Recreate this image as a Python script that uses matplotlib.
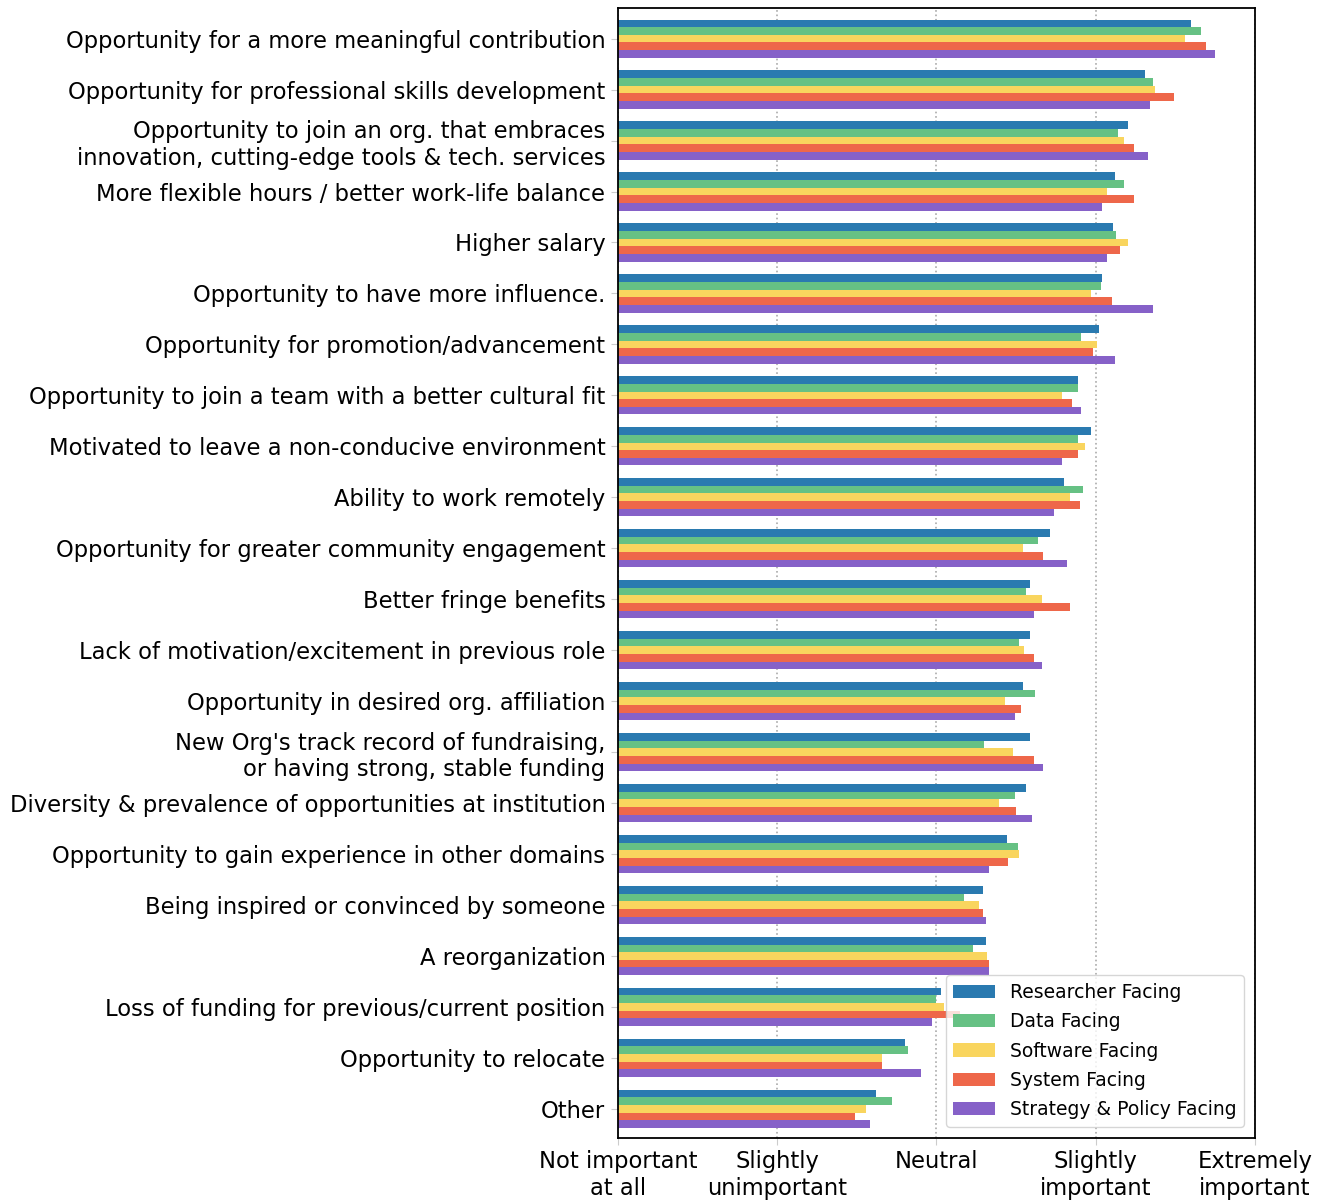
import numpy as np
import matplotlib
matplotlib.use('Agg')
import matplotlib.pyplot as plt

# Reasons (top to bottom)
reasons = [
    'Opportunity for a more meaningful contribution',
    'Opportunity for professional skills development',
    'Opportunity to join an org. that embraces\ninnovation, cutting-edge tools & tech. services',
    'More flexible hours / better work-life balance',
    'Higher salary',
    'Opportunity to have more influence.',
    'Opportunity for promotion/advancement',
    'Opportunity to join a team with a better cultural fit',
    'Motivated to leave a non-conducive environment',
    'Ability to work remotely',
    'Opportunity for greater community engagement',
    'Better fringe benefits',
    'Lack of motivation/excitement in previous role',
    'Opportunity in desired org. affiliation',
    "New Org's track record of fundraising,\nor having strong, stable funding",
    'Diversity & prevalence of opportunities at institution',
    'Opportunity to gain experience in other domains',
    'Being inspired or convinced by someone',
    'A reorganization',
    'Loss of funding for previous/current position',
    'Opportunity to relocate',
    'Other',
]

groups = ['Researcher Facing', 'Data Facing', 'Software Facing',
          'System Facing', 'Strategy & Policy Facing']
colors = ['#2a7ab0', '#66c184', '#f9d55e', '#ee674a', '#8661c8']

researcher = [4.60, 4.31, 4.20, 4.12, 4.11, 4.04, 4.02, 3.89, 3.97, 3.80, 3.71,
              3.59, 3.59, 3.54, 3.59, 3.56, 3.44, 3.29, 3.31, 3.03, 2.80, 2.62]
data_f = [4.66, 4.36, 4.14, 4.18, 4.13, 4.03, 3.91, 3.89, 3.89, 3.92, 3.64,
          3.56, 3.52, 3.62, 3.30, 3.49, 3.51, 3.17, 3.23, 3.00, 2.82, 2.72]
software = [4.56, 4.37, 4.18, 4.07, 4.20, 3.97, 4.01, 3.79, 3.93, 3.84, 3.54,
            3.66, 3.55, 3.43, 3.48, 3.39, 3.52, 3.27, 3.32, 3.05, 2.66, 2.56]
system = [4.69, 4.49, 4.24, 4.24, 4.15, 4.10, 3.98, 3.85, 3.89, 3.90, 3.67,
          3.84, 3.61, 3.53, 3.61, 3.50, 3.45, 3.29, 3.33, 3.15, 2.66, 2.49]
strategy = [4.75, 4.34, 4.33, 4.04, 4.07, 4.36, 4.12, 3.91, 3.79, 3.74, 3.82,
            3.61, 3.66, 3.49, 3.67, 3.60, 3.33, 3.31, 3.33, 2.97, 2.90, 2.58]

tick_labels = ['Not important\nat all', 'Slightly\nunimportant', 'Neutral',
               'Slightly\nimportant', 'Extremely\nimportant']

series = [researcher, data_f, software, system, strategy]

fig, ax = plt.subplots(figsize=(13.26, 12.01), dpi=100)
fig.subplots_adjust(left=0.466, right=0.9465, top=0.9933, bottom=0.0525)

y = np.arange(len(reasons))
h = 0.15
for i, (vals, name) in enumerate(zip(series, groups)):
    vals = np.array(vals)
    ax.barh(y + (i - 2) * h, vals - 1, left=1, height=h,
            color=colors[i], label=name)

ax.set_yticks(y)
ax.set_yticklabels(reasons, fontsize=16.3)
ax.set_ylim(len(reasons) - 0.43, -0.6)

ax.set_xlim(1, 5)
ax.set_xticks([1, 2, 3, 4, 5])
ax.set_xticklabels(tick_labels, fontsize=16.3)
ax.tick_params(axis='both', color='#cccccc', length=5, pad=4)

for sp in ax.spines.values():
    sp.set_linewidth(1.3)

ax.set_axisbelow(True)
ax.grid(axis='x', linestyle=':', color='#aaaaaa', linewidth=1.2)

ax.legend(loc='lower right', fontsize=13.5, framealpha=0.8,
          handlelength=2.2, labelspacing=0.55, borderaxespad=0.6)

plt.savefig('out.png')
